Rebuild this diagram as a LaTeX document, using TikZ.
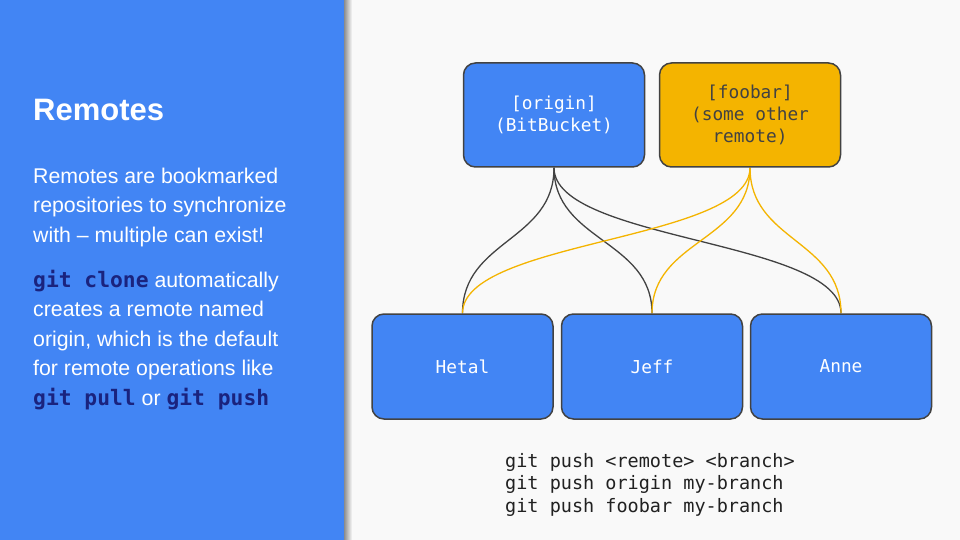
\documentclass[tikz,border=0pt]{standalone}
\usepackage{fontspec}
\setmainfont{Liberation Sans}
\setmonofont{DejaVu Sans Mono}
\definecolor{SlideBg}{HTML}{F9F9F9}
\definecolor{PanelClr}{HTML}{4285F4}
\definecolor{FoobarClr}{HTML}{F4B400}
\definecolor{EdgeClr}{HTML}{424242}
\definecolor{CodeClr}{HTML}{1A237E}
\definecolor{InkClr}{HTML}{212121}

\pgfdeclarelayer{slide}
\pgfdeclarelayer{links}
\pgfsetlayers{slide,links,main}

\tikzset{
  repo/.style={draw=EdgeClr,line width=1.5pt,rounded corners=12pt,
    minimum width=181pt,minimum height=104pt,inner sep=0pt,
    align=center,font=\ttfamily\fontsize{17.8}{22}\selectfont},
  blueRepo/.style={repo,fill=PanelClr,text=white},
  yellowRepo/.style={repo,fill=FoobarClr,text=EdgeClr},
  cloneRepo/.style={blueRepo,minimum height=105pt},
  originLink/.style={draw=EdgeClr,line width=1.3pt},
  foobarLink/.style={draw=FoobarClr,line width=1.3pt},
  panelText/.style={anchor=base west,inner sep=0pt,text=white,align=left},
}
\newcommand{\gitcmd}[1]{{\ttfamily\bfseries\color{CodeClr}#1}}

\begin{document}
\begin{tikzpicture}[x=1pt,y=-1pt]
\useasboundingbox (0,0) rectangle (960,540);

% left panel
\begin{pgfonlayer}{slide}
\fill[SlideBg] (0,0) rectangle (960,540);
\shade[left color=black!45,right color=SlideBg] (344,0) rectangle (352,540);
\fill[PanelClr] (0,0) rectangle (344,540);
\end{pgfonlayer}

\node[panelText,font=\bfseries\fontsize{31}{36}\selectfont] (title) at (33,121) {Remotes};

% multi-line nodes sit on their last baseline
\node[panelText,font=\fontsize{21.3}{29.5}\selectfont] (intro) at (33,242)
  {Remotes are bookmarked\\repositories to synchronize\\with -- multiple can exist!};

\node[panelText,font=\fontsize{21.3}{29.5}\selectfont] (clone) at (33,405)
  {\gitcmd{git clone} automatically\\creates a remote named\\origin, which is the default\\
   for remote operations like\\\gitcmd{git pull} or \gitcmd{git push}};

% remotes and clones
\node[blueRepo] (origin) at (554,115) {[origin]\\(BitBucket)};
\node[yellowRepo] (foobar) at (750,115) {[foobar]\\(some other\\remote)};

\node[cloneRepo] (hetal) at (462.5,366.5) {Hetal};
\node[cloneRepo] (jeff) at (652,366.5) {Jeff};
\node[cloneRepo] (anne) at (841,366.5) {Anne};

\begin{pgfonlayer}{links}
\foreach \clone in {hetal,jeff,anne}
  \path[originLink] (origin.south) .. controls +(0,73.5) and +(0,-73.5) .. (\clone.north);
\foreach \clone in {hetal,jeff,anne}
  \path[foobarLink] (foobar.south) .. controls +(0,73.5) and +(0,-73.5) .. (\clone.north);
\end{pgfonlayer}

\node[anchor=base west,inner sep=0pt,text=InkClr,align=left,
  font=\ttfamily\fontsize{18.5}{22.5}\selectfont] (usage) at (505,512)
  {git push <remote> <branch>\\git push origin my-branch\\git push foobar my-branch};
\end{tikzpicture}
\end{document}
